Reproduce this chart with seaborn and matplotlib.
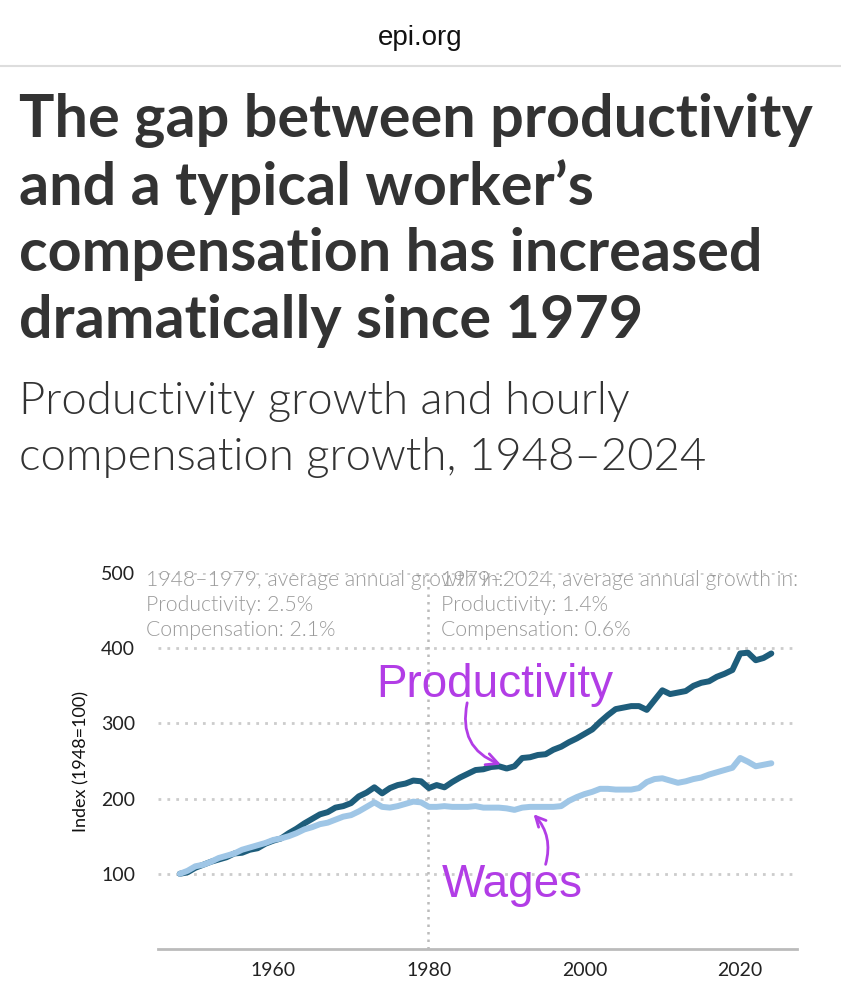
import numpy as np
import pandas as pd
import matplotlib
matplotlib.use("Agg")
import matplotlib.pyplot as plt
import seaborn as sns

years = list(range(1948, 2025))

productivity = [100, 102, 108, 112, 116, 119, 122, 127, 128, 132,
                134, 140, 144, 147, 154, 160, 167, 173, 179, 182,
                188, 190, 194, 203, 208, 215, 207, 214, 218, 220,
                224, 223, 214, 218, 215, 222, 228, 233, 238, 239,
                242, 243, 240, 243, 254, 255, 258, 259, 265, 269,
                275, 280, 286, 292, 302, 311, 319, 321, 323, 323,
                318, 331, 344, 339, 341, 343, 350, 354, 356, 362,
                366, 371, 393, 394, 384, 387, 393]

compensation = [100, 104, 110, 112, 116, 121, 124, 127, 132, 135,
                138, 141, 145, 147, 150, 154, 159, 162, 166, 168,
                172, 176, 178, 183, 189, 195, 189, 188, 190, 193,
                196, 195, 189, 189, 190, 189, 189, 189, 190, 188,
                188, 188, 187, 185, 188, 189, 189, 189, 189, 190,
                197, 202, 206, 209, 213, 213, 212, 212, 212, 214,
                222, 226, 227, 224, 221, 223, 226, 228, 232, 235,
                238, 241, 254, 249, 243, 245, 247]

y_ticks = [100, 200, 300, 400, 500]
x_ticks = [1960, 1980, 2000, 2020]

note_left = "1948\u20131979, average annual growth in:\nProductivity: 2.5%\nCompensation: 2.1%"
note_right = "1979\u20132024, average annual growth in:\nProductivity: 1.4%\nCompensation: 0.6%"

df = pd.DataFrame({"year": years, "Productivity": productivity,
                   "Compensation": compensation})

sns.set_theme(style="white")
plt.rcParams["font.family"] = ["Lato", "DejaVu Sans"]

W, H = 841, 1000
fig = plt.figure(figsize=(W / 100, H / 100), dpi=100)
fig.patch.set_facecolor("white")

def fx(px):
    return px / W

def fy(py):
    return 1 - py / H

# header bar
fig.text(0.5, fy(38), "epi.org", ha="center", va="center", fontsize=20,
         family="Liberation Sans", color="#111111")
fig.add_artist(plt.Line2D([0, 1], [fy(66), fy(66)], color="#dddddd", lw=1.5))

title = ["The gap between productivity", "and a typical worker\u2019s",
         "compensation has increased", "dramatically since 1979"]
for i, line in enumerate(title):
    fig.text(fx(19), fy(120 + 67 * i), line, ha="left", va="center",
             fontsize=42.7, fontweight="bold", color="#333333")

subtitle = ["Productivity growth and hourly", "compensation growth, 1948\u20132024"]
for i, line in enumerate(subtitle):
    fig.text(fx(19), fy(402 + 55 * i), line, ha="left", va="center",
             fontsize=32.8, fontweight=300, color="#333333")

ax = fig.add_axes([fx(158), 51 / H, 639 / W, 376 / H])

sns.lineplot(data=df, x="year", y="Productivity", ax=ax, color="#1e5d7b",
             lw=4.3, solid_capstyle="round")
sns.lineplot(data=df, x="year", y="Compensation", ax=ax, color="#9fc6e6",
             lw=4.3, solid_capstyle="round")

ax.set_xlim(1945.2, 2027.3)
ax.set_ylim(0, 500)
ax.set_yticks(y_ticks)
ax.set_xticks(x_ticks)
ax.tick_params(axis="both", length=0, labelsize=14, colors="#222222")
ax.tick_params(axis="y", pad=16.5)
ax.tick_params(axis="x", pad=9)
ax.set_xlabel("")
ax.set_ylabel("Index (1948=100)", fontsize=13, color="#111111", labelpad=8)

for v in y_ticks:
    ax.axhline(v, color="#cccccc", lw=2, ls=(0, (1, 2.2)), zorder=0)
ax.axvline(1979.9, color="#bbbbbb", lw=1.8, ls=(0, (1, 2)), zorder=0)

for s in ["top", "right", "left"]:
    ax.spines[s].set_visible(False)
ax.spines["bottom"].set_color("#bbbbbb")
ax.spines["bottom"].set_linewidth(2)

# the two notes overlap in the original as well
ax.text(1943.6, 504, note_left, ha="left", va="top", fontsize=15.3,
        fontweight=300, color="#9a9a9a", linespacing=1.3, clip_on=False)
ax.text(1981.6, 504, note_right, ha="left", va="top", fontsize=15.3,
        fontweight=300, color="#9a9a9a", linespacing=1.3, clip_on=False)

purple = "#b23de6"
ax.text(1973.3, 335, "Productivity", ha="left", va="baseline", fontsize=33,
        family="Liberation Sans", color=purple)
ax.text(1981.7, 69, "Wages", ha="left", va="baseline", fontsize=33,
        family="Liberation Sans", color=purple)

ax.annotate("", xy=(1989.6, 244), xytext=(1985.0, 331),
            arrowprops=dict(arrowstyle="->,head_length=0.7,head_width=0.35",
                            connectionstyle="arc3,rad=0.45", color=purple, lw=2))
ax.annotate("", xy=(1993.2, 182), xytext=(1994.9, 109),
            arrowprops=dict(arrowstyle="->,head_length=0.6,head_width=0.3",
                            connectionstyle="arc3,rad=0.3", color=purple, lw=2))

fig.savefig("out.png", dpi=100, facecolor="white")
